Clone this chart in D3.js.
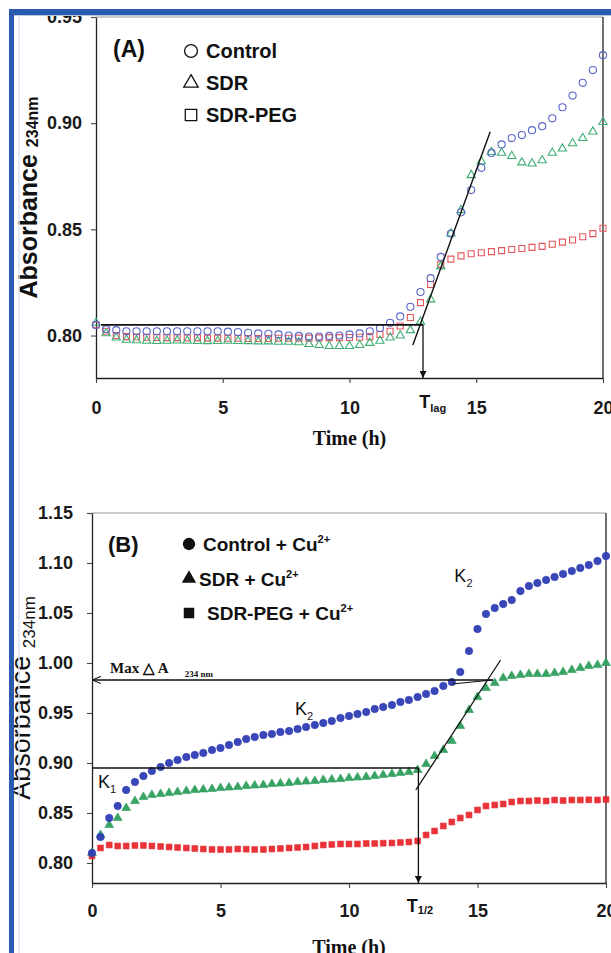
<!DOCTYPE html>
<html>
<head>
<meta charset="utf-8">
<script src="https://cdn.jsdelivr.net/npm/d3@7"></script>
<style>
body { margin: 0; background: #fff; }
svg { display: block; font-family: Arial, "Liberation Sans", sans-serif; }
</style>
</head>
<body>
<svg id="vis" width="611" height="953"></svg>
<script>
const svg = d3.select("#vis");

// tick values
const X_TICKS = [0, 5, 10, 15, 20];
const Y_TICKS_A = [0.80, 0.85, 0.90, 0.95];
const Y_TICKS_B = [0.80, 0.85, 0.90, 0.95, 1.00, 1.05, 1.10, 1.15];

// panel A: no copper, one reading every 0.4 h
const TIME_A = [0,0.4,0.8,1.2,1.6,2,2.4,2.8,3.2,3.6,4,4.4,4.8,5.2,5.6,6,6.4,6.8,7.2,7.6,8,8.4,8.8,9.2,9.6,10,
  10.4,10.8,11.2,11.6,12,12.4,12.8,13.2,13.6,14,14.4,14.8,15.2,15.6,16,16.4,16.8,17.2,17.6,18,18.4,18.8,19.2,19.6,20];
const CONTROL_A = [0.805,0.803,0.8025,0.802,0.802,0.802,0.802,0.802,0.802,0.802,0.802,0.802,0.802,0.8018,0.8016,
  0.8013,0.801,0.8008,0.8005,0.800,0.7998,0.7995,0.7995,0.7998,0.800,0.8005,0.801,0.802,0.8035,0.806,0.809,0.8135,
  0.8205,0.827,0.837,0.848,0.858,0.8685,0.879,0.886,0.890,0.893,0.8944,0.8967,0.8986,0.9023,0.9075,0.913,0.919,0.925,0.932];
const SDR_A = [0.806,0.801,0.799,0.798,0.7977,0.7975,0.7974,0.7975,0.7976,0.7975,0.7974,0.7973,0.7974,0.7975,0.7974,
  0.7973,0.7972,0.7972,0.797,0.797,0.7968,0.796,0.7955,0.795,0.795,0.795,0.7955,0.7965,0.7975,0.799,0.800,0.8025,
  0.8065,0.817,0.8325,0.848,0.859,0.8755,0.882,0.8864,0.886,0.8845,0.8815,0.881,0.8825,0.886,0.888,0.8905,0.893,0.896,0.9005];
const PEG_A = [0.805,0.802,0.800,0.7995,0.7993,0.7992,0.7991,0.799,0.799,0.7989,0.7989,0.7988,0.7988,0.7987,0.7987,
  0.7986,0.7986,0.7986,0.7987,0.7987,0.7988,0.7988,0.7989,0.799,0.799,0.7991,0.7992,0.7995,0.8005,0.802,0.8045,0.8085,
  0.8155,0.824,0.8335,0.836,0.8375,0.8385,0.839,0.8395,0.840,0.8405,0.841,0.8415,0.842,0.843,0.844,0.845,0.8465,0.848,0.8505];

// panel B: with Cu2+, one reading every 20 min
const TIME_B = [0,0.33,0.67,1,1.33,1.67,2,2.33,2.67,3,3.33,3.67,4,4.33,4.67,5,5.33,5.67,6,6.33,6.67,7,7.33,7.67,8,
  8.33,8.67,9,9.33,9.67,10,10.33,10.67,11,11.33,11.67,12,12.33,12.67,13,13.33,13.67,14,14.33,14.67,15,15.33,15.67,16,
  16.33,16.67,17,17.33,17.67,18,18.33,18.67,19,19.33,19.67,20];
const CONTROL_B = [0.81,0.826,0.845,0.857,0.873,0.881,0.887,0.892,0.896,0.900,0.903,0.906,0.908,0.910,0.913,0.915,
  0.918,0.921,0.924,0.926,0.928,0.929,0.931,0.932,0.934,0.936,0.938,0.940,0.942,0.945,0.947,0.949,0.951,0.954,0.956,
  0.958,0.961,0.963,0.966,0.969,0.972,0.977,0.981,0.991,1.012,1.034,1.049,1.055,1.059,1.063,1.072,1.077,1.080,1.083,
  1.086,1.089,1.092,1.095,1.098,1.102,1.107];
const SDR_B = [0.81,0.828,0.838,0.845,0.855,0.862,0.866,0.868,0.869,0.870,0.871,0.872,0.873,0.8735,0.874,0.875,
  0.8755,0.876,0.877,0.8775,0.878,0.879,0.8795,0.880,0.881,0.8815,0.882,0.883,0.8835,0.884,0.885,0.8855,0.886,0.887,
  0.888,0.889,0.890,0.891,0.893,0.899,0.907,0.913,0.922,0.937,0.953,0.966,0.975,0.980,0.985,0.987,0.988,0.989,0.989,
  0.989,0.990,0.991,0.993,0.995,0.997,0.998,1.000];
const PEG_B = [0.807,0.815,0.818,0.817,0.817,0.8175,0.8175,0.817,0.8165,0.816,0.8155,0.815,0.8145,0.814,0.8135,
  0.8135,0.8135,0.814,0.8138,0.8135,0.8135,0.814,0.8145,0.815,0.8155,0.816,0.817,0.818,0.8185,0.819,0.819,0.819,
  0.8195,0.8195,0.8198,0.820,0.8205,0.821,0.822,0.828,0.832,0.837,0.841,0.845,0.848,0.853,0.857,0.858,0.859,0.861,
  0.862,0.862,0.8625,0.862,0.863,0.8625,0.863,0.863,0.8632,0.863,0.8635];

// construction lines, in data units [time, absorbance]
const LAG_LINE_A = [[0.2, 0.805], [12.9, 0.805]];
const LAG_ARROW_A = [[12.9, 0.805], [12.9, 0.78]];
const TANGENT_A = [[12.5, 0.7955], [15.55, 0.896]];
const MAX_LINE_B = [[15.6, 0.983], [0, 0.983]];
const HALF_LINE_B = [[0, 0.895], [12.7, 0.895]];
const HALF_ARROW_B = [[12.7, 0.895], [12.7, 0.78]];
const TANGENT_B = [[12.6, 0.873], [15.9, 1.003]];
const PLATEAU_B = [[14.0, 0.979], [15.6, 0.983]];

const panelA = {
  left: 96, right: 603, top: 17, bottom: 378, yDomain: [0.78, 0.95], yTicks: Y_TICKS_A,
  yPad: 9, xPad: 18, titleX: 37, subDy: 1, titleBold: true, titleSize: 25, subSize: 16,
  series: [
    {name: "SDR-PEG", values: PEG_A, symbol: d3.symbolSquare, size: 36, color: "#e5575d", filled: false},
    {name: "SDR", values: SDR_A, symbol: d3.symbolTriangle, size: 30, color: "#3eae74", filled: false},
    {name: "Control", values: CONTROL_A, symbol: d3.symbolCircle, size: 40, color: "#5966c6", filled: false}
  ],
  times: TIME_A
};
const panelB = {
  left: 92, right: 606, top: 513, bottom: 883, yDomain: [0.78, 1.15], yTicks: Y_TICKS_B,
  yPad: 14, xPad: 16, titleX: 30, subDy: 5, titleBold: false, titleSize: 27, subSize: 17,
  series: [
    {name: "SDR-PEG + Cu", values: PEG_B, symbol: d3.symbolSquare, size: 34, color: "#e8282d", filled: true},
    {name: "SDR + Cu", values: SDR_B, symbol: d3.symbolTriangle, size: 34, color: "#2d9e5c", filled: true},
    {name: "Control + Cu", values: CONTROL_B, symbol: d3.symbolCircle, size: 44, color: "#2f3db5", filled: true}
  ],
  times: TIME_B
};

const defs = svg.append("defs");
defs.append("marker").attr("id", "arrowOpen")
  .attr("viewBox", "0 0 10 10").attr("refX", 10).attr("refY", 5)
  .attr("markerWidth", 9).attr("markerHeight", 9).attr("markerUnits", "userSpaceOnUse")
  .attr("orient", "auto")
  .append("path").attr("d", "M0,1 L10,5 L0,9").attr("fill", "none").attr("stroke", "#111").attr("stroke-width", 1.2);
defs.append("marker").attr("id", "arrowFill")
  .attr("viewBox", "0 0 10 10").attr("refX", 10).attr("refY", 5)
  .attr("markerWidth", 10).attr("markerHeight", 7).attr("markerUnits", "userSpaceOnUse")
  .attr("orient", "auto")
  .append("path").attr("d", "M0,0 L10,5 L0,10 z").attr("fill", "#111");

function drawPanel(p) {
  const x = d3.scaleLinear().domain([0, 20]).range([p.left, p.right]);
  const y = d3.scaleLinear().domain(p.yDomain).range([p.bottom, p.top]);
  const g = svg.append("g");

  // frame: light top, dark right
  g.append("line").attr("x1", p.left).attr("x2", p.right).attr("y1", p.top).attr("y2", p.top)
    .attr("stroke", "#9a9a9a").attr("stroke-width", 1.2);
  g.append("line").attr("x1", p.right).attr("x2", p.right).attr("y1", p.top).attr("y2", p.bottom)
    .attr("stroke", "#222").attr("stroke-width", 1.3);

  const xAxis = g.append("g").attr("transform", `translate(0,${p.bottom})`)
    .call(d3.axisBottom(x).tickValues(X_TICKS).tickFormat(d3.format("d")).tickSize(5).tickSizeOuter(0).tickPadding(p.xPad));
  const yAxis = g.append("g").attr("transform", `translate(${p.left},0)`)
    .call(d3.axisLeft(y).tickValues(p.yTicks).tickFormat(d3.format(".2f")).tickSize(5).tickSizeOuter(0).tickPadding(p.yPad));
  [xAxis, yAxis].forEach(a => {
    a.select(".domain").attr("stroke", "#222").attr("stroke-width", 1.3);
    a.selectAll(".tick line").attr("stroke", "#444").attr("stroke-width", 1.1);
    a.selectAll(".tick text").attr("fill", "#1a1a1a")
      .style("font-size", "18px").style("font-weight", "bold").style("font-family", "Arial, 'Liberation Sans', sans-serif");
  });

  // y title with subscript
  const cy = (p.top + p.bottom) / 2;
  const t = g.append("text").attr("transform", `translate(${p.titleX},${cy}) rotate(-90)`)
    .attr("text-anchor", "middle").attr("fill", "#111")
    .style("font-weight", p.titleBold ? "bold" : "normal");
  t.append("tspan").style("font-size", p.titleSize + "px").text("Absorbance ");
  t.append("tspan").style("font-size", p.subSize + "px").attr("dy", p.subDy).text("234nm");

  // x title
  g.append("text").attr("x", x(10)).attr("y", p.bottom + (p === panelA ? 67 : 71))
    .attr("text-anchor", "middle").attr("fill", "#111")
    .style("font-family", "'Liberation Serif', 'Times New Roman', serif")
    .style("font-weight", "bold").style("font-size", "20px").text("Time (h)");

  // data
  p.series.forEach(s => {
    g.append("g").selectAll("path").data(s.values).join("path")
      .attr("transform", (d, i) => `translate(${x(p.times[i])},${y(d)})`)
      .attr("d", d3.symbol(s.symbol, s.size))
      .attr("fill", s.filled ? s.color : "none")
      .attr("fill-opacity", 0.95)
      .attr("stroke", s.color)
      .attr("stroke-width", s.filled ? 0.6 : 1.1);
  });

  return {x, y, g};
}

const line = (sc, pts, w, marker) => {
  const l = sc.g.append("line")
    .attr("x1", sc.x(pts[0][0])).attr("y1", sc.y(pts[0][1]))
    .attr("x2", sc.x(pts[1][0])).attr("y2", sc.y(pts[1][1]))
    .attr("stroke", "#111").attr("stroke-width", w);
  if (marker) l.attr("marker-end", `url(#${marker})`);
};

// ---------- panel A ----------
const A = drawPanel(panelA);
line(A, LAG_LINE_A, 1.6);
line(A, LAG_ARROW_A, 1.3, "arrowFill");
line(A, TANGENT_A, 1.4);

const tlag = A.g.append("text").attr("x", A.x(12.75)).attr("y", panelA.bottom + 30)
  .attr("fill", "#111").style("font-weight", "bold").style("font-size", "18px");
tlag.append("tspan").text("T");
tlag.append("tspan").attr("dy", 4).style("font-size", "11px").text("lag");

// legend A
A.g.append("text").attr("x", 113).attr("y", 57).attr("fill", "#111")
  .style("font-weight", "bold").style("font-size", "23px").text("(A)");
const legA = [
  {label: "Control", symbol: d3.symbolCircle, size: 130},
  {label: "SDR", symbol: d3.symbolTriangle, size: 90},
  {label: "SDR-PEG", symbol: d3.symbolSquare, size: 130}
];
legA.forEach((d, i) => {
  const cyL = 51 + i * 32;
  A.g.append("path").attr("transform", `translate(191,${cyL})`)
    .attr("d", d3.symbol(d.symbol, d.size)).attr("fill", "none").attr("stroke", "#111").attr("stroke-width", 1.3);
  A.g.append("text").attr("x", 206).attr("y", cyL + 7).attr("fill", "#111")
    .style("font-weight", "bold").style("font-size", "20px").text(d.label);
});

// ---------- panel B ----------
const B = drawPanel(panelB);
line(B, MAX_LINE_B, 1.4, "arrowOpen");
line(B, HALF_LINE_B, 1.4);
line(B, HALF_ARROW_B, 1.3, "arrowFill");
line(B, TANGENT_B, 1.3);
line(B, PLATEAU_B, 1.2);

const serif = "'Liberation Serif', 'Times New Roman', serif";
const maxT = B.g.append("text").attr("x", B.x(0.7)).attr("y", B.y(0.99)).attr("fill", "#111")
  .style("font-family", serif).style("font-weight", "bold").style("font-size", "15px");
maxT.append("tspan").text("Max \u25B3 A");
maxT.append("tspan").attr("dx", 16).attr("dy", 4).style("font-size", "9px").text("234 nm");

function kLabel(t, v, sub) {
  const k = B.g.append("text").attr("x", B.x(t)).attr("y", B.y(v)).attr("fill", "#111").style("font-size", "18px");
  k.append("tspan").text("K");
  k.append("tspan").attr("dy", 5).style("font-size", "11px").text(sub);
}
kLabel(0.23, 0.875, "1");
kLabel(7.9, 0.948, "2");
kLabel(14.1, 1.081, "2");

const thalf = B.g.append("text").attr("x", B.x(12.25)).attr("y", panelB.bottom + 29)
  .attr("fill", "#111").style("font-weight", "bold").style("font-size", "18px");
thalf.append("tspan").text("T");
thalf.append("tspan").attr("dy", 2).style("font-size", "11px").text("1/2");

// legend B
B.g.append("text").attr("x", 108).attr("y", 552).attr("fill", "#111")
  .style("font-weight", "bold").style("font-size", "22px").text("(B)");
const legB = [
  {label: "Control + Cu", symbol: d3.symbolCircle, size: 120, x: 203},
  {label: "SDR + Cu", symbol: d3.symbolTriangle, size: 90, x: 199},
  {label: "SDR-PEG + Cu", symbol: d3.symbolSquare, size: 110, x: 207}
];
legB.forEach((d, i) => {
  const cyL = 544 + i * 34.5;
  B.g.append("path").attr("transform", `translate(189,${cyL})`)
    .attr("d", d3.symbol(d.symbol, d.size)).attr("fill", "#111");
  const tx = B.g.append("text").attr("x", d.x).attr("y", cyL + 7).attr("fill", "#111")
    .style("font-weight", "bold").style("font-size", "19px");
  tx.append("tspan").text(d.label);
  tx.append("tspan").attr("dy", -8).style("font-size", "11px").text("2+");
});

// blue page border from the scanned figure
svg.append("rect").attr("x", 9).attr("y", 9).attr("width", 602).attr("height", 6).attr("fill", "#2b5bae");
svg.append("rect").attr("x", 9).attr("y", 9).attr("width", 5).attr("height", 944).attr("fill", "#2b5bae");
svg.append("line").attr("x1", 14).attr("x2", 611).attr("y1", 15.5).attr("y2", 15.5).attr("stroke", "#b9c5de").attr("stroke-width", 1);
svg.append("line").attr("x1", 19).attr("x2", 19).attr("y1", 15).attr("y2", 953).attr("stroke", "#dbe5f3").attr("stroke-width", 1.5);
</script>
</body>
</html>
